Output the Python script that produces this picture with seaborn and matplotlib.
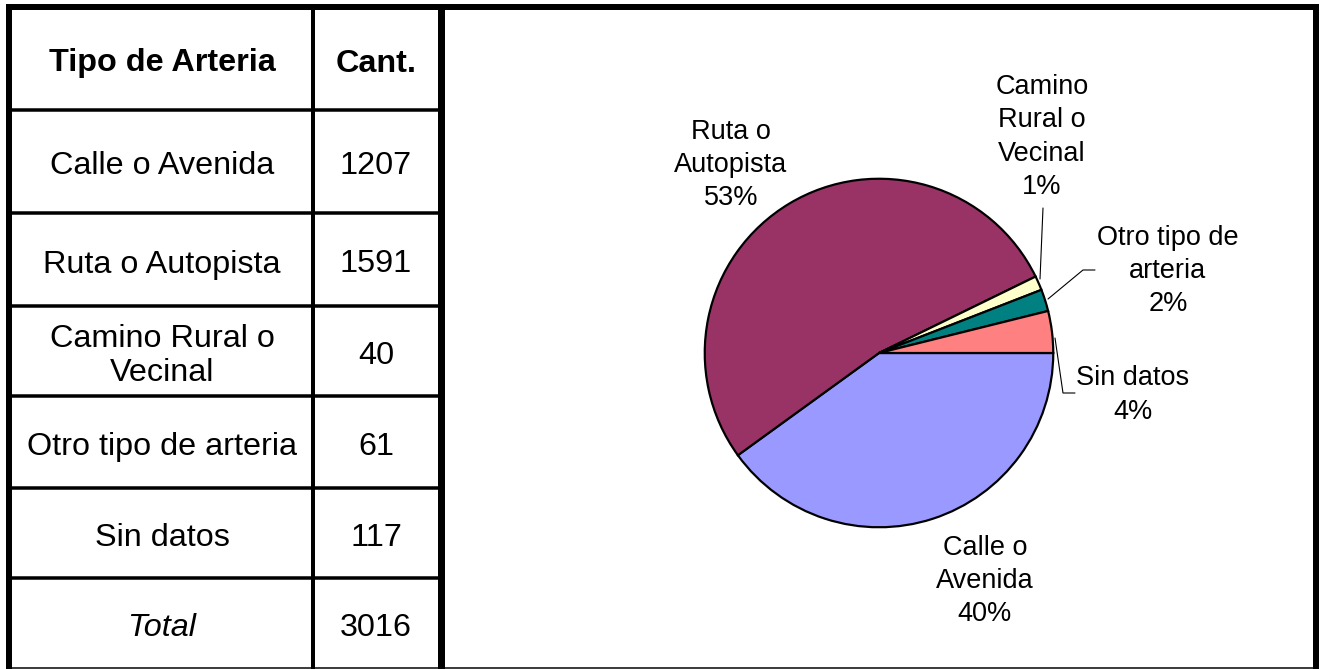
import matplotlib
matplotlib.use("Agg")
import matplotlib.pyplot as plt
import seaborn as sns
import numpy as np

# ---- data ----
categories = ["Calle o Avenida", "Ruta o Autopista", "Camino Rural o\nVecinal",
              "Otro tipo de arteria", "Sin datos"]
counts = [1207, 1591, 40, 61, 117]
total_label = "Total"
total_value = 3016
header = ["Tipo de Arteria", "Cant."]
pie_labels = ["Calle o\nAvenida", "Ruta o\nAutopista", "Camino\nRural o\nVecinal",
              "Otro tipo de\narteria", "Sin datos"]
colors = ["#9999FF", "#993366", "#FFFFCC", "#008080", "#FF8080"]

sns.set_theme(style="white")
plt.rcParams['font.family'] = ['Liberation Sans', 'DejaVu Sans']
plt.rcParams['text.color'] = 'black'

W, H = 1322, 669
fig = plt.figure(figsize=(W / 100, H / 100), dpi=100)
fig.patch.set_facecolor("white")

# background axes in pixel coordinates
bg = fig.add_axes([0, 0, 1, 1])
bg.set_xlim(0, W)
bg.set_ylim(H, 0)
bg.axis("off")

def px(p):
    return p * 72 / 100.0

# outer frame
bg.plot([9, 1316], [7, 7], color="black", lw=px(6), solid_capstyle="projecting")
bg.plot([9, 9], [7, 669], color="black", lw=px(6), solid_capstyle="butt")
bg.plot([441, 441], [7, 669], color="black", lw=px(7), solid_capstyle="butt")
bg.plot([1316, 1316], [7, 669], color="black", lw=px(6), solid_capstyle="butt")
bg.plot([9, 1316], [667.5, 667.5], color="black", lw=px(1.5))

# table grid
row_edges = [7, 110, 213, 306, 396, 488, 578, 668]
for y in row_edges[1:-1]:
    bg.plot([9, 441], [y, y], color="black", lw=px(3.5), solid_capstyle="butt")
bg.plot([313, 313], [7, 669], color="black", lw=px(4), solid_capstyle="butt")

col1_x, col2_x = 162, 376
fs_tab = 23.3
rows_txt = [(header[0], header[1], "bold", "normal")]
for c, v in zip(categories, counts):
    rows_txt.append((c, str(v), "normal", "normal"))
rows_txt.append((total_label, str(total_value), "normal", "italic"))

for i, (a, b, wt, st) in enumerate(rows_txt):
    yc = (row_edges[i] + row_edges[i + 1]) / 2 + 5
    bg.text(col1_x, yc, a, ha="center", va="center", fontsize=fs_tab,
            fontweight=wt, fontstyle=st, linespacing=1.2, color="black")
    bg.text(col2_x, yc, b, ha="center", va="center", fontsize=fs_tab,
            fontweight=wt, color="black")

# pie axes
cx, cy, r = 879, 353, 176
pax = fig.add_axes([(cx - r) / W, (H - cy - r) / H, 2 * r / W, 2 * r / H])
pax.pie(counts, colors=colors, startangle=0, counterclock=False, radius=1,
        wedgeprops=dict(edgecolor="black", linewidth=px(2.2)))
pax.set_xlim(-1.01, 1.01)
pax.set_ylim(-1.01, 1.01)
pax.axis("off")

tot = sum(counts)
pcts = [f"{round(v / tot * 100):.0f}%" for v in counts]
label_pos = [(985, 581), (731, 165), (1042, 137), (1168, 271), (1133, 395)]
fs_pie = 19.5
for lab, pct, (lx, ly) in zip(pie_labels, pcts, label_pos):
    bg.text(lx, ly, lab + "\n" + pct, ha="center", va="center", fontsize=fs_pie,
            linespacing=1.36, color="black")

# leader lines
bg.plot([1043, 1040], [208, 279], color="black", lw=0.8)
bg.plot([1095, 1083, 1048], [270, 270, 299], color="black", lw=0.8)
bg.plot([1075, 1063, 1055], [393, 393, 338], color="black", lw=0.8)

fig.savefig("out.png", dpi=100, facecolor="white")
